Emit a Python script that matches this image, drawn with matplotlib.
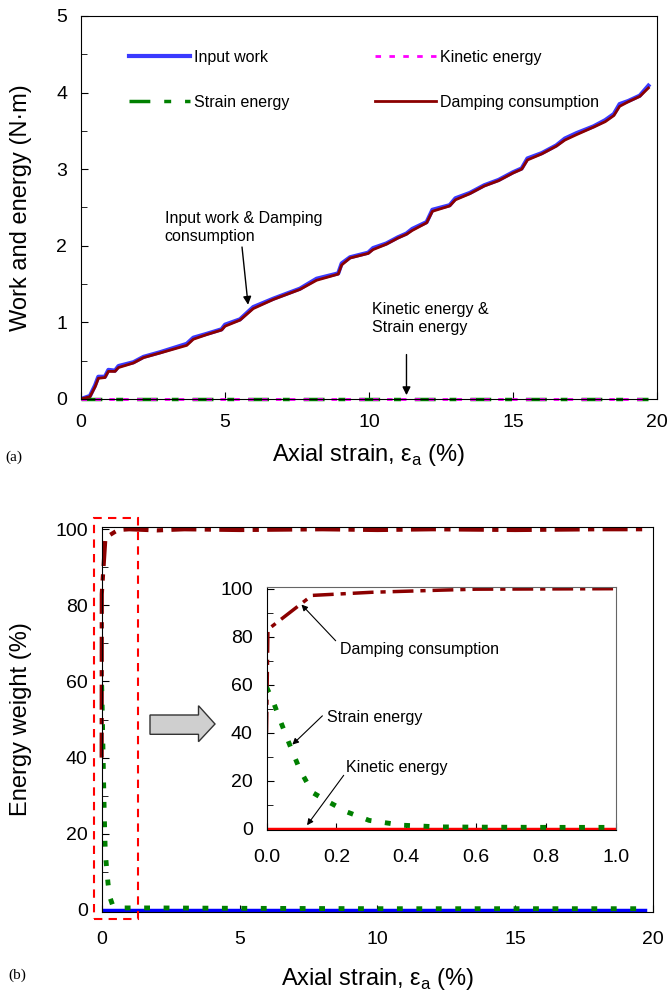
import matplotlib.pyplot as plt
from matplotlib.patches import Rectangle, Polygon
from matplotlib.ticker import MultipleLocator

plt.rcParams['font.family'] = ['Liberation Sans', 'DejaVu Sans']

# (a) work and energy vs axial strain
strain_x = [0, 0.31, 0.49, 0.6, 0.83, 0.95, 1.18, 1.3, 1.82, 2.17, 2.74, 3.67, 3.9,
            4.36, 4.88, 5.0, 5.52, 5.98, 6.68, 7.6, 8.18, 8.93, 9.05, 9.34, 9.97,
            10.14, 10.6, 11.0, 11.3, 11.5, 12.0, 12.2, 12.8, 13.0, 13.5, 14.0, 14.5,
            15.0, 15.3, 15.5, 16.0, 16.5, 16.8, 17.2, 17.8, 18.2, 18.5, 18.7, 19.0,
            19.4, 19.7]
damping_work = [0, 0.03, 0.16, 0.27, 0.28, 0.36, 0.36, 0.41, 0.47, 0.54, 0.60, 0.70,
                0.78, 0.84, 0.90, 0.95, 1.03, 1.18, 1.30, 1.43, 1.55, 1.63, 1.75, 1.84,
                1.90, 1.95, 2.02, 2.10, 2.15, 2.20, 2.30, 2.45, 2.52, 2.60, 2.68, 2.78,
                2.85, 2.95, 3.00, 3.12, 3.20, 3.30, 3.38, 3.45, 3.55, 3.62, 3.70, 3.82,
                3.88, 3.95, 4.06]
input_work = [0, 0.04, 0.18, 0.29, 0.29, 0.38, 0.37, 0.43, 0.48, 0.55, 0.61, 0.72,
              0.80, 0.85, 0.91, 0.97, 1.04, 1.20, 1.31, 1.44, 1.57, 1.64, 1.77, 1.85,
              1.91, 1.97, 2.03, 2.11, 2.16, 2.22, 2.31, 2.47, 2.53, 2.62, 2.69, 2.79,
              2.86, 2.96, 3.01, 3.14, 3.21, 3.31, 3.40, 3.47, 3.56, 3.64, 3.72, 3.85,
              3.89, 3.96, 4.09]
zero_x = [0, 19.7]
kinetic_work = [0, 0]
strain_work = [0, 0]

# (b) energy weight (%)
damp_x = [0, 0.004, 0.13, 0.3, 0.5, 0.6, 1.0, 2.0, 3.0, 5.0, 8.0, 10.0, 12.0, 15.0,
          18.0, 19.7]
damp_pct = [40, 83, 97.2, 98.5, 99.4, 99.8, 100, 99.7, 100, 99.8, 100, 99.8, 100,
            99.8, 100, 100]
se_x = [0, 0.021, 0.042, 0.068, 0.095, 0.131, 0.179, 0.231, 0.294, 0.389, 0.494, 0.6,
        0.8, 1.0, 2.0, 5.0, 10.0, 15.0, 19.7]
se_pct = [59, 52.2, 44, 34.3, 24.7, 15.1, 11, 6.9, 3.4, 1.4, 0.7, 0.6, 0.5, 0.5, 0.5,
          0.4, 0.3, 0.3, 0.3]
ke_x = [0, 19.7]
ke_pct = [0, 0]

dark_red = '#8b0000'
green = '#008000'
dashdot = (0, (6, 2, 1.5, 2))
dots = (0, (1.2, 2.8))

fig = plt.figure(figsize=(6.68, 9.92), dpi=100)

# ---- top panel
ax1 = fig.add_axes([0.1213, 0.5978, 0.8623, 0.3861])
ax1.plot(strain_x, input_work, color='#3a3aff', lw=3, label='Input work')
ax1.plot(zero_x, strain_work, color=green, lw=2.5, ls=(0, (6, 4, 2, 4)),
         label='Strain energy', clip_on=False)
ax1.plot(zero_x, kinetic_work, color='magenta', lw=2, ls=(0, (2, 3)),
         label='Kinetic energy', clip_on=False)
ax1.plot(strain_x, damping_work, color=dark_red, lw=2, label='Damping consumption')
ax1.set_xlim(0, 20)
ax1.set_ylim(0, 5)
ax1.xaxis.set_major_locator(MultipleLocator(5))
ax1.yaxis.set_major_locator(MultipleLocator(1))
ax1.yaxis.set_minor_locator(MultipleLocator(0.5))
ax1.tick_params(which='both', direction='in', labelsize=14)
ax1.tick_params(axis='x', pad=11)
ax1.tick_params(axis='y', pad=10)
ax1.tick_params(which='major', length=5)
ax1.tick_params(which='minor', length=4)
ax1.set_ylabel('Work and energy (N·m)', fontsize=17)
ax1.yaxis.set_label_coords(-0.085, 0.5)
ax1.set_xlabel('Axial strain, ε$_\\mathregular{a}$ (%)', fontsize=17)
ax1.xaxis.set_label_coords(0.5, -0.112)
h, l = ax1.get_legend_handles_labels()
ax1.legend(h, l, ncol=2, loc='upper left', bbox_to_anchor=(0.083, 0.912),
           frameon=False, fontsize=11.5, handlelength=3.8, handletextpad=0.25,
           columnspacing=5.4, labelspacing=1.9, borderpad=0, borderaxespad=0)
ax1.annotate('Input work & Damping\nconsumption', xy=(5.8, 1.23), xytext=(2.9, 2.02),
             fontsize=11.5, ha='left', va='bottom', linespacing=1.3,
             arrowprops=dict(arrowstyle='-|>', color='black', lw=1,
                             shrinkA=0, shrinkB=0, mutation_scale=12,
                             relpos=(0.49, 0)))
ax1.text(10.1, 1.05, 'Kinetic energy &\nStrain energy', fontsize=11.5, ha='left',
         va='center', linespacing=1.3)
ax1.annotate('', xy=(11.3, 0.05), xytext=(11.3, 0.58),
             arrowprops=dict(arrowstyle='-|>', color='black', lw=1,
                             shrinkA=0, shrinkB=0, mutation_scale=12))

# ---- bottom panel
ax2 = fig.add_axes([0.1522, 0.0809, 0.8258, 0.3875])
ax2.plot(damp_x, damp_pct, color=dark_red, lw=3, ls=dashdot, clip_on=False)
ax2.plot(ke_x, ke_pct, color='blue', lw=2.5)
ax2.plot(se_x, se_pct, color=green, lw=3.5, ls=dots)
ax2.set_xlim(0, 20)
ax2.set_ylim(-0.5, 100.5)
ax2.xaxis.set_major_locator(MultipleLocator(5))
ax2.yaxis.set_major_locator(MultipleLocator(20))
ax2.yaxis.set_minor_locator(MultipleLocator(10))
ax2.tick_params(which='both', direction='in', labelsize=14)
ax2.tick_params(axis='x', pad=14)
ax2.tick_params(axis='y', pad=10)
ax2.tick_params(which='major', length=5)
ax2.tick_params(which='minor', length=4)
ax2.set_ylabel('Energy weight (%)', fontsize=17)
ax2.yaxis.set_label_coords(-0.126, 0.5)
ax2.set_xlabel('Axial strain, ε$_\\mathregular{a}$ (%)', fontsize=17)
ax2.xaxis.set_label_coords(0.5, -0.141)

# red dashed zoom box and grey arrow (figure pixels)
W, H = 668.0, 992.0
fig.patches.append(Rectangle((93.7 / W, (H - 919) / H), (138 - 93.7) / W,
                             (919 - 517.7) / H, transform=fig.transFigure,
                             fill=False, ec='red', ls=(0, (4, 3)), lw=1.5))
arrow_px = [(150, 715), (198.5, 715), (198.5, 705.7), (215, 724), (198.5, 741.7),
            (198.5, 734.3), (150, 734.3)]
fig.patches.append(Polygon([(x / W, (H - y) / H) for x, y in arrow_px],
                           closed=True, transform=fig.transFigure,
                           fc='#cfcfcf', ec='#333333', lw=1))

# ---- inset
ax3 = fig.add_axes([0.399, 0.1633, 0.5227, 0.2447])
ax3.plot(ke_x, ke_pct, color='red', lw=2.5)
ax3.plot(damp_x, damp_pct, color=dark_red, lw=2.5, ls=dashdot)
ax3.plot(se_x, se_pct, color=green, lw=3.5, ls=dots)
ax3.set_xlim(0, 1)
ax3.set_ylim(-0.6, 100.6)
ax3.xaxis.set_major_locator(MultipleLocator(0.2))
ax3.yaxis.set_major_locator(MultipleLocator(20))
ax3.yaxis.set_minor_locator(MultipleLocator(10))
ax3.xaxis.set_major_formatter(lambda v, p: f'{v:.1f}')
ax3.tick_params(which='both', direction='in', labelsize=14)
ax3.tick_params(axis='x', pad=14)
ax3.tick_params(axis='y', pad=10)
ax3.tick_params(which='major', length=5)
ax3.tick_params(which='minor', length=4)
for s in ax3.spines.values():
    s.set_color('#666666')
ax3.spines['left'].set_color('black')
ax3.spines['bottom'].set_color('black')

arr = dict(arrowstyle='-|>', color='black', lw=0.8, shrinkA=0, shrinkB=0,
           mutation_scale=9)
ax3.annotate('', xy=(0.1, 93.4), xytext=(0.198, 78.3), arrowprops=arr)
ax3.text(0.21, 74.6, 'Damping consumption', fontsize=11.5, va='center')
ax3.annotate('', xy=(0.074, 35), xytext=(0.16, 47), arrowprops=arr)
ax3.text(0.173, 46.4, 'Strain energy', fontsize=11.5, va='center')
ax3.annotate('', xy=(0.116, 1.4), xytext=(0.221, 22.2), arrowprops=arr)
ax3.text(0.228, 25.4, 'Kinetic energy', fontsize=11.5, va='center')

fig.text(5 / W, (H - 457) / H, '(a)', family='Liberation Serif', fontsize=11,
         va='center')
fig.text(8 / W, (H - 975) / H, '(b)', family='Liberation Serif', fontsize=11,
         va='center')

fig.savefig('out.png', dpi=100)
